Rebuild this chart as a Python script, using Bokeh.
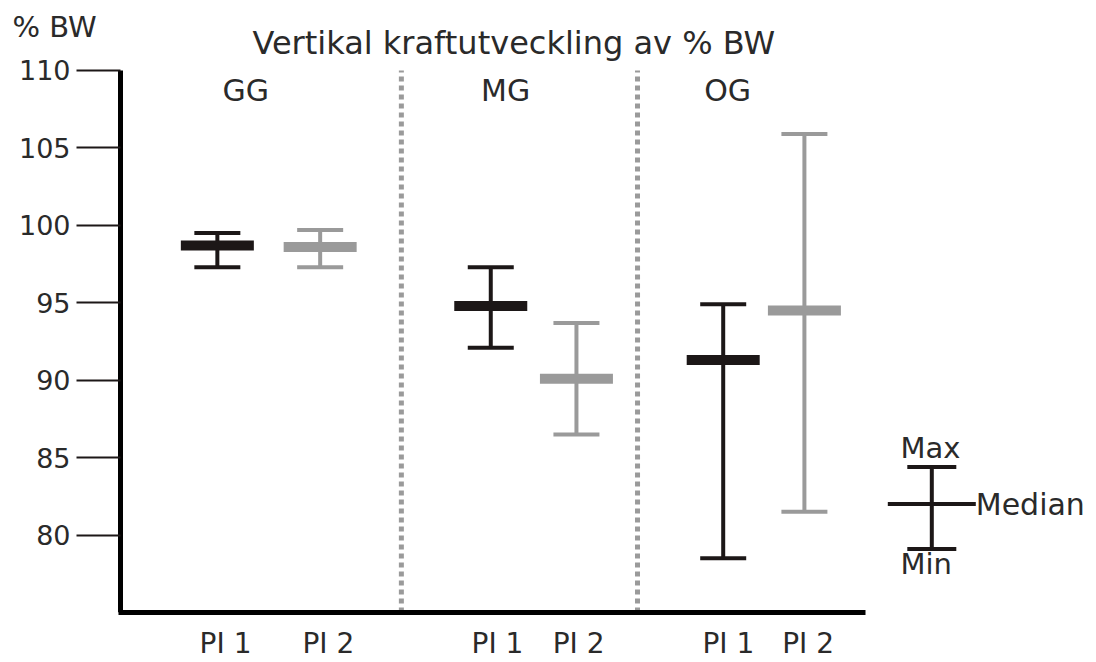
from bokeh.plotting import figure
from bokeh.models import Range1d, FixedTicker, LinearAxis
from bokeh.core.properties import value
from bokeh.embed import file_html
from bokeh.resources import INLINE
import numpy as np

# ---- data ----
groups = ["GG", "MG", "OG"]
series = ["PI 1", "PI 2"]
max_vals = [99.5, 99.7, 97.3, 93.7, 94.9, 105.9]
min_vals = [97.3, 97.3, 92.1, 86.5, 78.5, 81.5]
median_vals = [98.7, 98.6, 94.8, 90.1, 91.3, 94.5]
series_of_point = ["PI 1", "PI 2", "PI 1", "PI 2", "PI 1", "PI 2"]
y_ticks = [80, 85, 90, 95, 100, 105, 110]
legend_vals = {"Max": 84.4, "Median": 82.0, "Min": 79.1}
title_text = "Vertikal kraftutveckling av % BW"
y_unit = "% BW"

# ---- layout (positions in x units) ----
x_pos = np.array([1.30, 2.68, 4.97, 6.12, 8.09, 9.18])
label_pos = [1.41, 2.79, 5.06, 6.15, 8.16, 9.23]
group_pos = [1.68, 5.17, 8.15]
sep_pos = [3.77, 6.94]
leg_x = 10.89

BLACK = "#1c1717"
GRAY = "#9a9a9a"
TXT = "#2a2a2a"
FONT = "DejaVu Sans"
colors = [BLACK if s == "PI 1" else GRAY for s in series_of_point]

p = figure(width=1096, height=662, output_backend="svg", toolbar_location=None,
           x_range=Range1d(-120 / 74.5, 976 / 74.5), y_range=Range1d(75, 114.52),
           y_axis_location=None,
           min_border_left=0, min_border_right=0, min_border_top=0,
           min_border_bottom=50)
p.outline_line_color = None
p.grid.visible = False
p.background_fill_color = "white"

# y axis pinned at x = 0
ya = LinearAxis(fixed_location=0)
ya.ticker = FixedTicker(ticks=y_ticks)
ya.bounds = (75, 110)
ya.axis_line_width = 5
ya.axis_line_color = "black"
ya.major_tick_out = 44
ya.major_tick_in = 0
ya.major_tick_line_width = 2
ya.major_tick_line_color = BLACK
ya.minor_tick_line_color = None
ya.major_label_standoff = 6
ya.major_label_text_font = FONT
ya.major_label_text_font_size = "27px"
ya.major_label_text_color = TXT
p.add_layout(ya, "left")

# x axis
xa = p.xaxis[0]
xa.ticker = FixedTicker(ticks=label_pos)
xa.major_label_overrides = {t: s for t, s in zip(label_pos, series_of_point)}
xa.bounds = (-0.03, 10)
xa.axis_line_width = 5
xa.axis_line_color = "black"
xa.major_tick_line_color = None
xa.minor_tick_line_color = None
xa.major_tick_out = 0
xa.major_label_standoff = 14
xa.major_label_text_font = FONT
xa.major_label_text_font_size = "28px"
xa.major_label_text_color = TXT

# separators
p.segment(x0=sep_pos, y0=[75] * 2, x1=sep_pos, y1=[110] * 2, line_color=GRAY,
          line_width=5, line_dash="5 4")

# whiskers
p.segment(x0=x_pos, y0=min_vals, x1=x_pos, y1=max_vals, line_color=colors, line_width=4)
p.rect(x=x_pos, y=max_vals, width=46, height=4, width_units="screen", height_units="screen",
       fill_color=colors, line_color=None)
p.rect(x=x_pos, y=min_vals, width=46, height=4, width_units="screen", height_units="screen",
       fill_color=colors, line_color=None)
p.rect(x=x_pos, y=median_vals, width=73, height=10, width_units="screen", height_units="screen",
       fill_color=colors, line_color=None)

# group labels
p.text(x=group_pos, y=[108.7] * 3, text=groups, text_align="center", text_baseline="middle",
       text_font=value(FONT), text_font_size="30px", text_color=TXT)

# title
p.text(x=[5.28], y=[111.8], text=[title_text], text_align="center", text_baseline="middle",
       text_font=value(FONT), text_font_size="32px", text_color=TXT)

# unit label top-left
p.text(x=[-1.45], y=[112.78], text=[y_unit], text_align="left", text_baseline="middle",
       text_font=value(FONT), text_font_size="29px", text_color=TXT)

# legend glyph
p.segment(x0=[leg_x], y0=[legend_vals["Min"]], x1=[leg_x], y1=[legend_vals["Max"]],
          line_color=BLACK, line_width=4)
p.rect(x=[leg_x, leg_x], y=[legend_vals["Max"], legend_vals["Min"]], width=49, height=4,
       width_units="screen", height_units="screen", fill_color=BLACK, line_color=None)
p.rect(x=[leg_x], y=[legend_vals["Median"]], width=88, height=4, width_units="screen",
       height_units="screen", fill_color=BLACK, line_color=None)
p.text(x=[10.47], y=[85.6], text=["Max"], text_align="left", text_baseline="alphabetic",
       text_font=value(FONT), text_font_size="29px", text_color=TXT)
p.text(x=[11.48], y=[legend_vals["Median"]], text=["Median"], text_align="left",
       text_baseline="middle", text_font=value(FONT), text_font_size="30px", text_color=TXT)
p.text(x=[10.47], y=[78.15], text=["Min"], text_align="left", text_baseline="alphabetic",
       text_font=value(FONT), text_font_size="29px", text_color=TXT)

open("out.html", "w").write(file_html(p, INLINE))
